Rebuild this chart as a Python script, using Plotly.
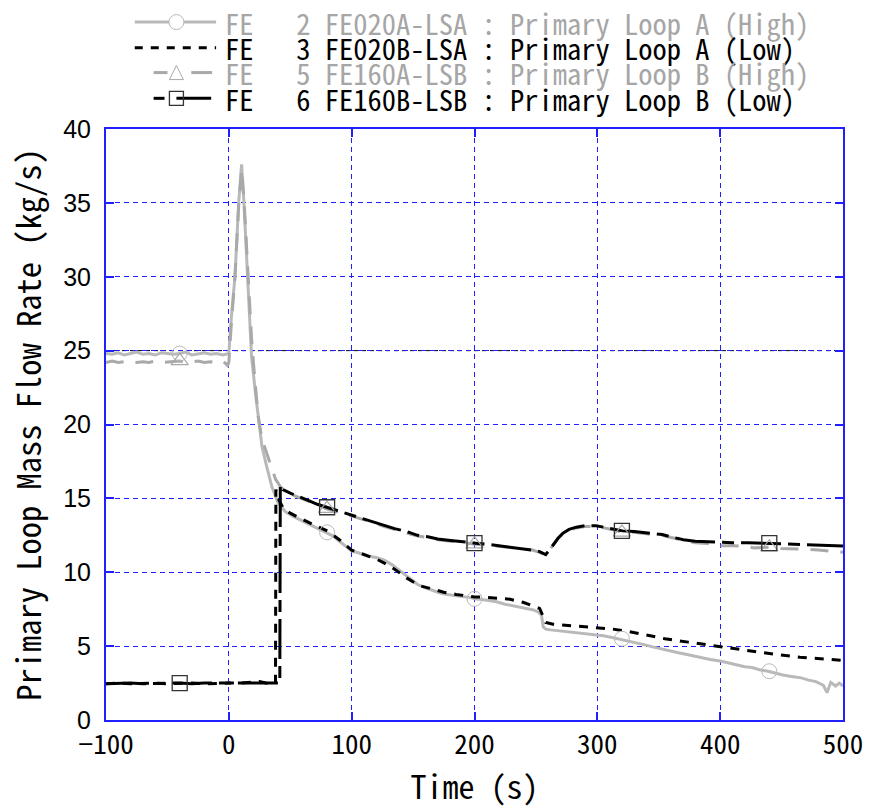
import plotly.graph_objects as go

# ---------------- data ----------------
t_fe2 = [-100, -95, -90, -85, -80, -75, -70, -65, -60, -55, -50, -45, -40, -35, -30, -25, -20, -15, -10, -5, 0,
         2, 5, 8, 10.4, 12.3, 15, 17.6, 18.5, 21.7, 25.7, 27, 31, 35, 40, 46, 52, 57, 63, 70, 75, 80, 85, 90, 95,
         100, 106, 113, 120, 127, 133, 140, 147, 154, 160, 166, 172, 178, 184, 190, 196, 200, 206, 212, 218, 224,
         230, 236, 242, 248, 252, 254.5, 256, 258, 262, 268, 274, 280, 286, 292, 299, 305, 311, 320, 326, 332,
         338, 345, 352, 360, 366, 372, 380, 386, 392, 401, 407, 413, 420, 426, 432, 439, 445, 451, 458, 466,
         472, 478, 484, 487, 490, 494, 497, 500]
fe2 = [24.8, 24.75, 24.85, 24.7, 24.8, 24.9, 24.75, 24.8, 24.7, 24.85, 24.8, 24.75, 24.8, 24.9, 24.7, 24.8, 24.85,
       24.75, 24.8, 24.7, 24.8,
       27.2, 30.0, 35.0, 37.6, 35.0, 30.0, 25.2, 24.6, 22.1, 19.3, 18.5, 17.1, 15.8, 14.7, 14.1, 13.8, 13.6, 13.35,
       13.1, 12.9, 12.7, 12.45, 12.1, 11.8,
       11.45, 11.3, 11.1, 11.0, 10.8, 10.5, 10.05, 9.6, 9.15, 8.95, 8.75, 8.6, 8.5, 8.4, 8.35, 8.3, 8.2, 8.15, 8.1,
       8.0, 7.85,
       7.75, 7.7, 7.6, 7.45, 7.3, 7.1, 6.3, 6.15, 6.1, 6.05, 6.0, 5.95, 5.9, 5.85, 5.75, 5.7, 5.6, 5.45, 5.35, 5.2,
       5.1, 4.95, 4.8, 4.65, 4.55, 4.45, 4.3, 4.2, 4.1, 3.97, 3.85, 3.75, 3.6, 3.55, 3.4, 3.3, 3.15, 3.05, 2.95, 2.85,
       2.7, 2.6, 2.35, 1.85, 2.55, 2.3, 2.5, 2.3]

t_fe3 = [-100, -90, -80, -70, -60, -50, -40, -30, -20, -10, 0, 10, 20, 25, 30, 35, 38, 38.3, 40, 44.6, 50, 56.7,
         65, 72, 80, 90, 100, 110, 120, 127, 135, 145, 155, 164, 175, 185, 200, 210, 220, 229, 240, 245, 253,
         256, 258, 264, 275, 285.5, 300, 312, 325, 339, 355, 374, 388, 401, 415, 430, 447, 465, 480, 498, 500]
fe3 = [2.45, 2.5, 2.45, 2.5, 2.5, 2.45, 2.5, 2.5, 2.45, 2.5, 2.5, 2.5, 2.55, 2.6, 2.5, 2.45, 2.45, 15.6, 15.0, 14.3,
       14.0, 13.7, 13.4, 13.1, 12.8, 12.2, 11.5, 11.2, 10.9, 10.6, 10.2, 9.6, 9.1, 8.9, 8.65, 8.5, 8.33, 8.3, 8.25,
       8.17, 7.95, 7.8, 7.55, 7.0, 6.6, 6.48, 6.4, 6.32, 6.25, 6.16, 6.0, 5.76, 5.5, 5.27, 5.1, 4.98, 4.8, 4.6,
       4.42, 4.25, 4.15, 4.04, 4.03]

t_fe5 = [-100, -95, -90, -85, -80, -75, -70, -65, -60, -55, -50, -45, -40, -35, -30, -25, -20, -15, -10, -5, -1, 0,
         2, 5, 8, 10.4, 12.5, 15.3, 18.5, 20, 23.8, 27, 31, 35, 38, 41.9, 46, 50, 56.7, 65, 72, 79.5, 90, 100.5,
         110, 118, 126.7, 135, 145, 153.6, 162, 170, 180.5, 190, 200.7, 210, 220, 231.7, 240, 247, 253, 258, 261,
         265, 268, 272, 277, 282.8, 290, 299, 305, 312, 320.5, 330, 340, 352.8, 360, 370, 379.7, 390, 401, 410,
         420, 428, 440, 450, 460, 471, 480, 490, 499.5, 500]
fe5 = [24.2, 24.3, 24.2, 24.25, 24.3, 24.2, 24.25, 24.2, 24.3, 24.2, 24.25, 24.3, 24.3, 24.2, 24.25, 24.3, 24.2,
       24.25, 24.2, 24.3, 24.0, 24.2,
       26.8, 30.0, 34.8, 37.3, 35.0, 30.4, 25.8, 24.2, 20.6, 19.0, 18.0, 17.0, 16.3, 15.8, 15.5, 15.3, 15.1, 14.8,
       14.55, 14.3, 14.05, 13.8,
       13.55, 13.35, 13.1, 12.9, 12.7, 12.45, 12.35, 12.2, 12.1, 12.0, 11.9, 11.85, 11.75, 11.68, 11.6, 11.5, 11.35,
       11.15, 11.5,
       12.0, 12.3, 12.6, 12.85, 13.0, 13.1, 13.1, 13.0, 12.9, 12.7, 12.7, 12.6, 12.5, 12.35, 12.15, 12.0, 11.95,
       11.8, 11.8,
       11.75, 11.65, 11.7, 11.6, 11.6, 11.55, 11.5, 11.45, 11.4, 11.35]

t_fe6 = [-100, -90, -80, -70, -60, -50, -40, -30, -20, -10, 0, 10, 20, 30, 35, 40, 41.5, 41.9, 44, 50, 56.7, 65,
         72, 79.5, 90, 100.5, 110, 118, 126.7, 135, 145, 153.6, 162, 170, 180.5, 190, 200.7, 210, 220, 231.7, 240,
         247, 253, 258, 261, 265, 268, 272, 277, 282.8, 290, 299, 305, 312, 320.5, 330, 340, 352.8, 360, 370,
         379.7, 390, 401, 410, 423, 440, 460, 480, 498, 500]
fe6 = [2.45, 2.5, 2.5, 2.45, 2.5, 2.5, 2.5, 2.45, 2.5, 2.5, 2.5, 2.5, 2.5, 2.5, 2.45, 2.5, 2.5, 15.9, 15.6, 15.35,
       15.15, 14.85, 14.6, 14.4, 14.1, 13.85, 13.6, 13.4, 13.15, 12.95, 12.75, 12.5, 12.4, 12.25, 12.15, 12.05,
       11.97, 11.9, 11.8, 11.7, 11.6, 11.5, 11.4, 11.2, 11.5, 12.0, 12.3, 12.65, 12.9, 13.05, 13.15, 13.15, 13.05,
       12.95, 12.8, 12.75, 12.65, 12.55, 12.4, 12.2, 12.1, 12.05, 12.0, 12.0, 12.0, 11.95, 11.9, 11.85, 11.79, 11.78]

# marker positions (every 120 s)
t_mark = [-40, 80, 200, 320, 440]
fe2_mark = [24.8, 12.7, 8.2, 5.5, 3.3]
fe5_mark = [24.3, 14.3, 11.9, 12.7, 11.7]
fe6_mark = [2.5, 14.4, 11.97, 12.8, 11.97]

legend_labels = [
    "FE   2 FE020A-LSA : Primary Loop A (High)",
    "FE   3 FE020B-LSA : Primary Loop A (Low)",
    "FE   5 FE160A-LSB : Primary Loop B (High)",
    "FE   6 FE160B-LSB : Primary Loop B (Low)",
]
ref_level = 25

for a, b in [(t_fe2, fe2), (t_fe3, fe3), (t_fe5, fe5), (t_fe6, fe6)]:
    assert len(a) == len(b), (len(a), len(b))

# ---------------- style ----------------
W, H = 875, 811
L, R, T, B = 106, 26, 129, 85
GOTHIC = "Noto Sans Mono CJK JP, Noto Sans CJK JP, DejaVu Sans Mono, monospace"
ARIAL = "Liberation Sans, Arial, sans-serif"
GRAY1 = "#b9b9b9"
GRAY2 = "#a9a9a9"
TXTGRAY = "#a6a6a6"
BLUE = "#1f1fff"

def px_x(px):
    return (px - L) / (W - L - R)

def px_y(py):
    return (H - B - py) / (H - T - B)

fig = go.Figure()
fig.add_trace(go.Scatter(x=t_fe2, y=fe2, mode="lines", line=dict(color=GRAY1, width=3), showlegend=False))
fig.add_trace(go.Scatter(x=t_fe3, y=fe3, mode="lines", line=dict(color="black", width=3, dash="9px,8px"),
                         showlegend=False))
fig.add_trace(go.Scatter(x=t_fe5, y=fe5, mode="lines", line=dict(color=GRAY2, width=3, dash="18px,12px"),
                         showlegend=False))
fig.add_trace(go.Scatter(x=t_fe6, y=fe6, mode="lines",
                         line=dict(color="black", width=3, dash="40px,7px,12px,7px"), showlegend=False))
fig.add_trace(go.Scatter(x=t_mark, y=fe2_mark, mode="markers", showlegend=False,
                         marker=dict(symbol="circle-open", size=15, color=GRAY1, line=dict(width=1, color=GRAY1))))
fig.add_trace(go.Scatter(x=t_mark, y=fe5_mark, mode="markers", showlegend=False,
                         marker=dict(symbol="triangle-up-open", size=15, color=GRAY2,
                                     line=dict(width=1.2, color=GRAY2))))
fig.add_trace(go.Scatter(x=t_mark, y=fe6_mark, mode="markers", showlegend=False,
                         marker=dict(symbol="square-open", size=15, color="#333333",
                                     line=dict(width=1.3, color="#333333"))))

shapes = []
annotations = []
rows_py = [21, 47, 72, 98]
text_colors = [TXTGRAY, "black", TXTGRAY, "black"]
for lbl, py, col in zip(legend_labels, rows_py, text_colors):
    annotations.append(dict(xref="paper", yref="paper", x=px_x(224), y=px_y(py), xanchor="left",
                            yanchor="middle", text=lbl.replace(" ", "&nbsp;"), showarrow=False,
                            font=dict(family=GOTHIC, size=28.5, color=col)))

def seg(x0, x1, py, color, dash="solid", width=3):
    return dict(type="line", xref="paper", yref="paper", x0=px_x(x0), x1=px_x(x1), y0=px_y(py), y1=px_y(py),
                line=dict(color=color, width=width, dash=dash))

# legend row 1
shapes.append(seg(135, 217, rows_py[0], GRAY1))
shapes.append(dict(type="circle", xref="paper", yref="paper", xsizemode="pixel", ysizemode="pixel",
                   xanchor=px_x(177), yanchor=px_y(rows_py[0]), x0=-7.5, x1=7.5, y0=-7.5, y1=7.5,
                   fillcolor="white", line=dict(color=GRAY1, width=1)))
# legend row 2
shapes.append(seg(135, 217, rows_py[1], "black", dash="8px,8px"))
# legend row 3
shapes.append(seg(154, 168, rows_py[2], GRAY2))
shapes.append(seg(192, 213, rows_py[2], GRAY2))
shapes.append(dict(type="path", xref="paper", yref="paper", xsizemode="pixel", ysizemode="pixel",
                   xanchor=px_x(177), yanchor=px_y(rows_py[2]), path="M-7,-7 L7,-7 L0,7 Z",
                   line=dict(color=GRAY2, width=1)))
# legend row 4
shapes.append(seg(154, 165, rows_py[3], "black"))
shapes.append(seg(177, 212, rows_py[3], "black"))
shapes.append(dict(type="rect", xref="paper", yref="paper", xsizemode="pixel", ysizemode="pixel",
                   xanchor=px_x(177), yanchor=px_y(rows_py[3]), x0=-7, x1=7, y0=-7, y1=7,
                   line=dict(color="#333333", width=1.3)))

# reference line
shapes.append(dict(type="line", xref="paper", yref="y", x0=0, x1=1, y0=ref_level, y1=ref_level,
                   line=dict(color="black", width=1, dash="4px,4px"), layer="below"))

axis_common = dict(showgrid=True, gridcolor=BLUE, gridwidth=1, griddash="5px,4px", showline=True,
                   linecolor=BLUE, linewidth=2, mirror="ticks", ticks="inside", ticklen=8, tickcolor=BLUE,
                   tickwidth=1.5, zeroline=False)

fig.update_layout(
    width=W, height=H, margin=dict(l=L, r=R, t=T, b=B),
    plot_bgcolor="white", paper_bgcolor="white", showlegend=False,
    shapes=shapes, annotations=annotations,
    xaxis=dict(range=[-100, 500], dtick=100, tick0=0, **axis_common,
               tickfont=dict(family=GOTHIC, size=27, color="black"),
               title=dict(text="Time (s)", font=dict(family=GOTHIC, size=32, color="black"), standoff=14)),
    yaxis=dict(range=[0, 40], dtick=5, tick0=0, **axis_common,
               tickfont=dict(family=ARIAL, size=25, color="black"), ticklabelstandoff=8,
               title=dict(text="Primary Loop Mass Flow Rate (kg/s)",
                          font=dict(family=GOTHIC, size=32.5, color="black"), standoff=12)),
)

fig.write_html("out.html")
